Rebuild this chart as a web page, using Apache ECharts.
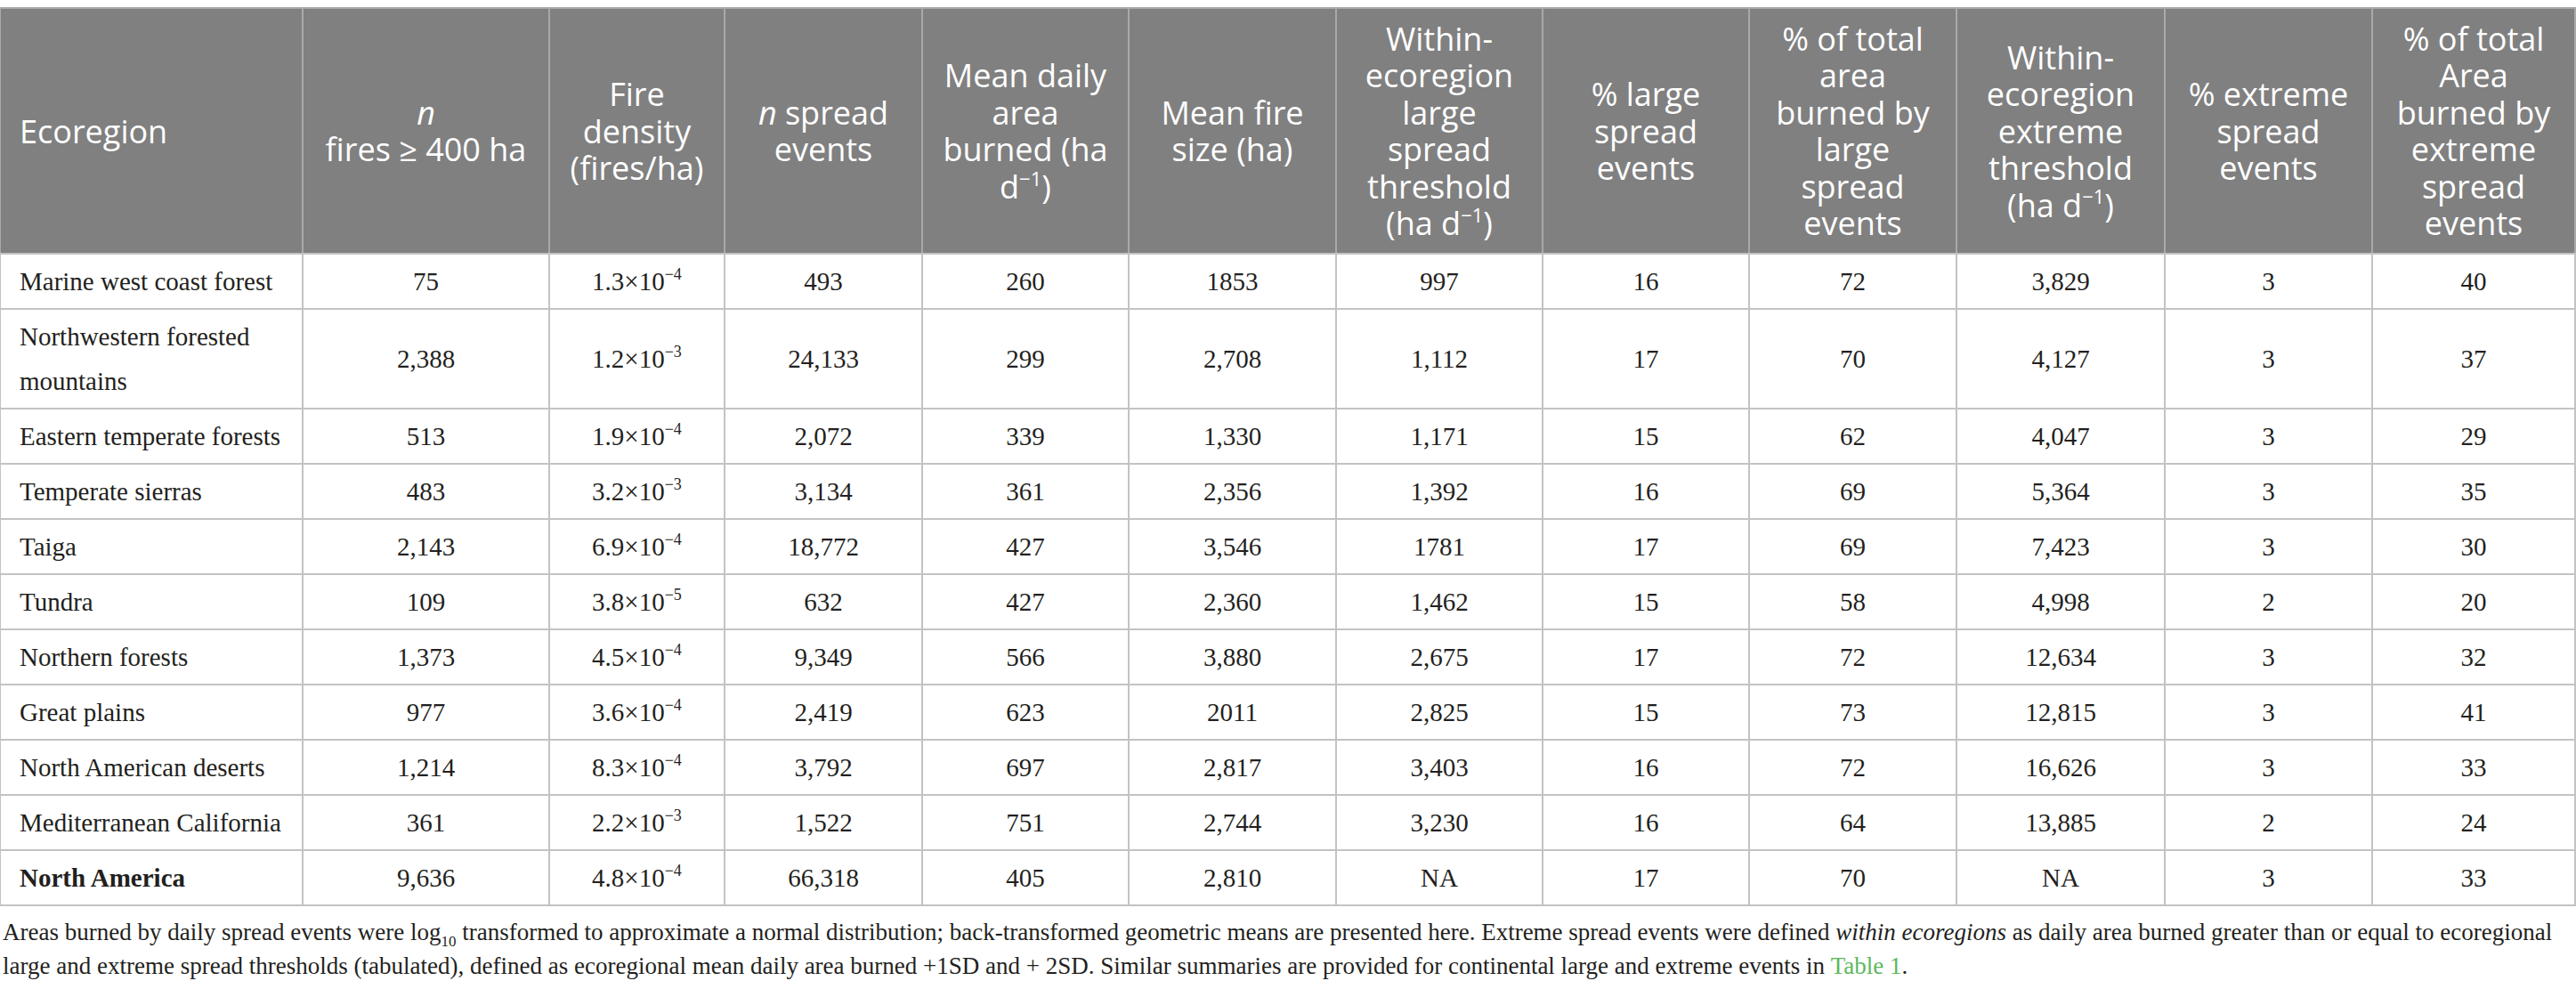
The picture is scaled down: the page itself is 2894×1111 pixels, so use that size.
<!DOCTYPE html>
<html>
<head>
<meta charset="utf-8">
<script src="https://cdn.jsdelivr.net/npm/echarts@6/dist/echarts.min.js"></script>
<style>
  html, body { margin: 0; padding: 0; background: #fff; }
  #chart { width: 2894px; height: 1111px; }
</style>
</head>
<body>
<div id="chart"></div>
<script>
'use strict';

// Column headings (rich text markup: it = italic, sup = superscript)
const headers = [
  'Ecoregion',
  '{it|n}\nfires ≥ 400 ha',
  'Fire\ndensity\n(fires/ha)',
  '{it|n} spread\nevents',
  'Mean daily\narea\nburned (ha\nd{sup|−1})',
  'Mean fire\nsize (ha)',
  'Within-\necoregion\nlarge\nspread\nthreshold\n(ha d{sup|−1})',
  '% large\nspread\nevents',
  '% of total\narea\nburned by\nlarge\nspread\nevents',
  'Within-\necoregion\nextreme\nthreshold\n(ha d{sup|−1})',
  '% extreme\nspread\nevents',
  '% of total\nArea\nburned by\nextreme\nspread\nevents'
];

const ecoregions = [
  'Marine west coast forest',
  'Northwestern forested\nmountains',
  'Eastern temperate forests',
  'Temperate sierras',
  'Taiga',
  'Tundra',
  'Northern forests',
  'Great plains',
  'North American deserts',
  'Mediterranean California',
  'North America'
];
const nFires = ['75', '2,388', '513', '483', '2,143', '109', '1,373', '977', '1,214', '361', '9,636'];
const densityMant = ['1.3', '1.2', '1.9', '3.2', '6.9', '3.8', '4.5', '3.6', '8.3', '2.2', '4.8'];
const densityExp = [-4, -3, -4, -3, -4, -5, -4, -4, -4, -3, -4];
const nSpread = ['493', '24,133', '2,072', '3,134', '18,772', '632', '9,349', '2,419', '3,792', '1,522', '66,318'];
const meanDailyArea = ['260', '299', '339', '361', '427', '427', '566', '623', '697', '751', '405'];
const meanFireSize = ['1853', '2,708', '1,330', '2,356', '3,546', '2,360', '3,880', '2011', '2,817', '2,744', '2,810'];
const largeThreshold = ['997', '1,112', '1,171', '1,392', '1781', '1,462', '2,675', '2,825', '3,403', '3,230', 'NA'];
const pctLarge = [16, 17, 15, 16, 17, 15, 17, 15, 16, 16, 17];
const pctAreaLarge = [72, 70, 62, 69, 69, 58, 72, 73, 72, 64, 70];
const extremeThreshold = ['3,829', '4,127', '4,047', '5,364', '7,423', '4,998', '12,634', '12,815', '16,626', '13,885', 'NA'];
const pctExtreme = [3, 3, 3, 3, 3, 2, 3, 3, 3, 2, 3];
const pctAreaExtreme = [40, 37, 29, 35, 30, 20, 32, 41, 33, 24, 33];

const footnote =
  'Areas burned by daily spread events were log{sub|10} transformed to approximate a normal distribution; ' +
  'back-transformed geometric means are presented here. Extreme spread events were defined ' +
  '{it|within ecoregions} as daily area burned greater than or equal to ecoregional\n' +
  'large and extreme spread thresholds (tabulated), defined as ecoregional mean daily area burned +1SD and + 2SD. ' +
  'Similar summaries are provided for continental large and extreme events in {link|Table 1}.';

// layout: column / row edges in table units (1 unit = 1 px)
const COL_EDGES = [0, 340, 617, 814, 1036, 1268, 1501, 1733, 1965, 2198, 2432, 2665, 2893];
const ROW_EDGES = [0, 276, 338, 450, 512, 574, 636, 698, 760, 822, 884, 946, 1008];

function bodyText(c, i) {
  switch (c) {
    case 0: return ecoregions[i];
    case 1: return nFires[i];
    case 2: return densityMant[i] + '×10{sup|' + String(densityExp[i]).replace('-', '−') + '}';
    case 3: return nSpread[i];
    case 4: return meanDailyArea[i];
    case 5: return meanFireSize[i];
    case 6: return largeThreshold[i];
    case 7: return String(pctLarge[i]);
    case 8: return String(pctAreaLarge[i]);
    case 9: return extremeThreshold[i];
    case 10: return String(pctExtreme[i]);
    default: return String(pctAreaExtreme[i]);
  }
}

const cells = [];
for (let r = 0; r <= ecoregions.length; r += 1) {
  for (let c = 0; c < headers.length; c += 1) cells.push([c, r]);
}

const HEAD_FONT = '"Open Sans", "Noto Sans", sans-serif';
const BODY_FONT = '"Liberation Serif", "Times New Roman", serif';

function renderCell(params, api) {
  const c = api.value(0);
  const r = api.value(1);
  const p0 = api.coord([COL_EDGES[c], ROW_EDGES[r]]);
  const p1 = api.coord([COL_EDGES[c + 1], ROW_EDGES[r + 1]]);
  const w = p1[0] - p0[0];
  const h = p1[1] - p0[1];
  const isHead = r === 0;
  const left = c === 0;
  const textStyle = isHead
    ? {
        text: headers[c],
        fill: '#fff',
        fontFamily: HEAD_FONT,
        fontSize: 36,
        lineHeight: 41.5,
        rich: {
          it: { fontStyle: 'italic', fontFamily: HEAD_FONT, fontSize: 36, lineHeight: 41.5, fill: '#fff' },
          sup: { fontFamily: HEAD_FONT, fontSize: 22, lineHeight: 26, verticalAlign: 'top', fill: '#fff' }
        }
      }
    : {
        text: bodyText(c, r - 1),
        fill: '#231f20',
        fontFamily: BODY_FONT,
        fontSize: 29,
        fontWeight: (left && r === ecoregions.length) ? 'bold' : 'normal',
        lineHeight: left ? 50 : 34,
        rich: {
          sup: { fontFamily: BODY_FONT, fontSize: 18, lineHeight: 20, verticalAlign: 'top', fill: '#231f20' }
        }
      };
  textStyle.x = left ? p0[0] + 22 : p0[0] + w / 2;
  textStyle.y = p0[1] + h / 2;
  textStyle.align = left ? 'left' : 'center';
  textStyle.verticalAlign = 'middle';
  return {
    type: 'group',
    children: [
      {
        type: 'rect',
        shape: { x: p0[0], y: p0[1], width: w, height: h },
        style: {
          fill: isHead ? '#808080' : '#fff',
          stroke: isHead ? '#a9a9a9' : '#c3c3c3',
          lineWidth: 2
        }
      },
      { type: 'text', style: textStyle }
    ]
  };
}

const chart = echarts.init(document.getElementById('chart'), null, { renderer: 'svg' });
chart.setOption({
  animation: false,
  backgroundColor: '#fff',
  grid: { left: 0, top: 9, width: 2893, height: 1008 },
  xAxis: { type: 'value', min: 0, max: 2893, show: false },
  yAxis: { type: 'value', min: 0, max: 1008, inverse: true, show: false },
  series: [{
    type: 'custom',
    silent: true,
    clip: false,
    renderItem: renderCell,
    data: cells,
    encode: { x: 0, y: 1 }
  }],
  graphic: [{
    type: 'text',
    left: 3,
    top: 1028,
    silent: true,
    style: {
      text: footnote,
      fill: '#231f20',
      fontFamily: BODY_FONT,
      fontSize: 27,
      lineHeight: 38,
      rich: {
        sub: { fontFamily: BODY_FONT, fontSize: 17, lineHeight: 24, verticalAlign: 'bottom', fill: '#231f20' },
        it: { fontFamily: BODY_FONT, fontStyle: 'italic', fontSize: 27, lineHeight: 38, fill: '#231f20' },
        link: { fontFamily: BODY_FONT, fontSize: 27, lineHeight: 38, fill: '#5cb85c' }
      }
    }
  }]
});
</script>
</body>
</html>
